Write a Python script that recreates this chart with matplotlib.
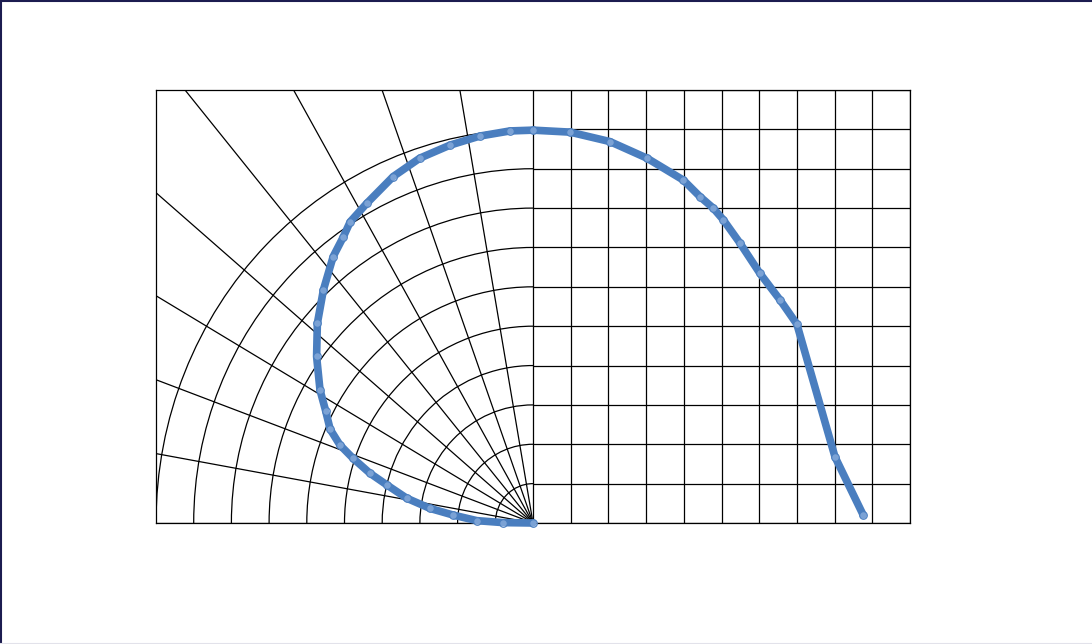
import numpy as np
import matplotlib
matplotlib.use("Agg")
import matplotlib.pyplot as plt
from matplotlib.patches import Arc
from matplotlib.lines import Line2D

# ---- data ----
curve_x = [0.0, -0.79, -1.49, -2.11, -2.73, -3.35, -3.88, -4.32, -4.77, -5.12,
           -5.38, -5.50, -5.65, -5.74, -5.72, -5.56, -5.30, -5.03, -4.85, -4.41,
           -3.71, -3.00, -2.20, -1.41, -0.61, 0.0,
           0.98, 2.04, 3.02, 3.99, 4.43, 4.78, 5.05, 5.49, 6.02, 6.55, 7.00,
           8.01, 8.76]
curve_y = [0.0, 0.01, 0.06, 0.20, 0.37, 0.63, 0.97, 1.26, 1.64, 1.98,
           2.38, 2.85, 3.38, 4.23, 5.07, 5.92, 6.77, 7.27, 7.65, 8.12,
           8.80, 9.27, 9.60, 9.83, 9.96, 9.98,
           9.93, 9.69, 9.27, 8.71, 8.29, 8.00, 7.70, 7.11, 6.34, 5.67, 5.05,
           1.68, 0.20]

ring_radii = [1, 2, 3, 4, 5, 6, 7, 8, 9, 10]
spoke_angles = [100, 110, 120, 130, 140, 150, 160, 170, 180]
grid_x = [0, 1, 2, 3, 4, 5, 6, 7, 8, 9, 10]
grid_y = [0, 1, 2, 3, 4, 5, 6, 7, 8, 9, 10, 11]

BLUE = "#4a7ebf"

fig = plt.figure(figsize=(10.92, 6.44), dpi=100)
fig.patch.set_facecolor("white")
ax = fig.add_axes([156 / 1092, 121 / 644, 754 / 1092, 433 / 644])
ax.set_xlim(-10, 10)
ax.set_ylim(0, 11)
ax.set_xticks([])
ax.set_yticks([])
for s in ax.spines.values():
    s.set_color("black")
    s.set_linewidth(0.9)

# cartesian grid on the right half
ax.vlines(grid_x, 0, 11, color="black", lw=0.9)
ax.hlines(grid_y, 0, 10, color="black", lw=0.9)

# polar grid on the left half
for r in ring_radii:
    ax.add_patch(Arc((0, 0), 2 * r, 2 * r, theta1=90, theta2=180,
                     color="black", lw=0.9))
for a in spoke_angles:
    t = np.deg2rad(a)
    ax.plot([0, 30 * np.cos(t)], [0, 30 * np.sin(t)], color="black", lw=0.9)

# data curve
ax.plot(curve_x, curve_y, color=BLUE, lw=5.5, solid_joinstyle="round",
        solid_capstyle="round",
        marker="o", ms=5.5, mfc=(0.85, 0.9, 1.0, 0.35), mec=BLUE, mew=0.8,
        clip_on=False, zorder=5)

# figure border (as in the screenshot)
fig.add_artist(Line2D([0, 1], [1 - 0.5 / 644, 1 - 0.5 / 644],
                      transform=fig.transFigure, color="#1c1c50", lw=1.5))
fig.add_artist(Line2D([0.5 / 1092, 0.5 / 1092], [0, 1],
                      transform=fig.transFigure, color="#1c1c50", lw=1.5))
fig.add_artist(Line2D([0, 1], [0.5 / 644, 0.5 / 644],
                      transform=fig.transFigure, color="#e2e2ea", lw=1.5))

fig.savefig("out.png", dpi=100)
